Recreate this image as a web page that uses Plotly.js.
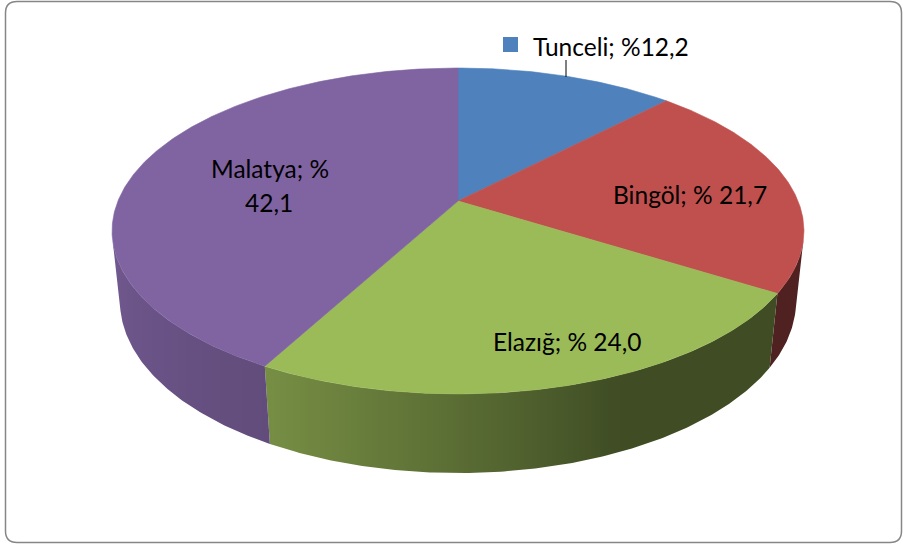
<!DOCTYPE html>
<html>
<head>
<meta charset="utf-8">
<script src="https://cdn.plot.ly/plotly-3.0.1.min.js"></script>
<style>html,body{margin:0;padding:0;background:#fff;}#chart{width:903px;height:547px;}</style>
</head>
<body>
<div id="chart"></div>
<script>
// ---- data ----
const categories = ['Tunceli', 'Bingöl', 'Elazığ', 'Malatya'];
const shares = [12.2, 21.7, 24.0, 42.1];
const labelLines = [['Tunceli; %12,2'], ['Bingöl; % 21,7'], ['Elazığ; % 24,0'], ['Malatya; %', '42,1']];
const sliceColors = ['#4f81bd', '#c0504d', '#9bbb59', '#8064a2'];

// ---- 3D perspective projection of a tilted disc ----
const CX = 458, CY = 201, F = 1639, DIST = 4.82;
const SINP = 0.463, COSP = Math.sqrt(1 - SINP * SINP);
const THICK = 0.2345;
function proj(thetaDeg, Y) {
  const t = thetaDeg * Math.PI / 180;
  const X = Math.sin(t), Z = Math.cos(t);
  const yc = Y * COSP + Z * SINP;
  const zc = -Y * SINP + Z * COSP;
  return [CX + F * X / (DIST + zc), CY - F * yc / (DIST + zc)];
}
// rim visible where cos(theta) < -1/(D cos phi)
const silA = Math.acos(-1 / (DIST * COSP)) * 180 / Math.PI;
const silB = 360 - silA;

function hexToRgb(h) { return [parseInt(h.substr(1,2),16), parseInt(h.substr(3,2),16), parseInt(h.substr(5,2),16)]; }
const shadeTable = [[100,0.41],[157,0.41],[170,0.51],[184,0.61],[208,0.76],[260,0.89]];
function shade(th) {
  if (th <= shadeTable[0][0]) return shadeTable[0][1];
  for (let i = 1; i < shadeTable.length; i++) {
    if (th <= shadeTable[i][0]) {
      const [a, fa] = shadeTable[i-1], [b, fb] = shadeTable[i];
      return fa + (fb - fa) * (th - a) / (b - a);
    }
  }
  return shadeTable[shadeTable.length-1][1];
}

const total = shares.reduce((a, b) => a + b, 0);
const bounds = [];
let acc = 0;
shares.forEach(v => { const a = acc / total * 360; acc += v; bounds.push([a, acc / total * 360]); });

const sideTraces = [], topTraces = [];
bounds.forEach(([a, b], i) => {
  // side (rim) part
  const s = Math.max(a, silA), e = Math.min(b, silB);
  if (e > s) {
    const xs = [], ys = [];
    const n = Math.max(2, Math.ceil((e - s) / 0.5));
    for (let k = 0; k <= n; k++) { const p = proj(s + (e - s) * k / n, 0); xs.push(p[0]); ys.push(p[1]); }
    for (let k = n; k >= 0; k--) { const p = proj(s + (e - s) * k / n, -THICK); xs.push(p[0]); ys.push(p[1]); }
    xs.push(xs[0]); ys.push(ys[0]);
    const base = hexToRgb(sliceColors[i]);
    const samples = [];
    const m = Math.max(2, Math.ceil((e - s) / 2));
    for (let k = 0; k <= m; k++) {
      const th = s + (e - s) * k / m;
      const x = (proj(th, 0)[0] + proj(th, -THICK)[0]) / 2;
      const f = shade(th);
      samples.push([x, 'rgb(' + base.map(c => Math.round(c * f)).join(',') + ')']);
    }
    samples.sort((p, q) => p[0] - q[0]);
    const x0 = samples[0][0], x1 = samples[samples.length-1][0];
    const cs = samples.map(([x, c]) => [(x - x0) / (x1 - x0), c]);
    cs[0][0] = 0; cs[cs.length-1][0] = 1;
    sideTraces.push({
      type: 'scatter', mode: 'lines', x: xs, y: ys, fill: 'toself',
      fillgradient: { type: 'horizontal', colorscale: cs, start: x0, stop: x1 },
      line: { width: 0 }, hoverinfo: 'skip', showlegend: false
    });
  }
  // top face
  const xs = [CX], ys = [CY];
  const n = Math.max(2, Math.ceil((b - a) / 0.5));
  for (let k = 0; k <= n; k++) { const p = proj(a + (b - a) * k / n, 0); xs.push(p[0]); ys.push(p[1]); }
  xs.push(CX); ys.push(CY);
  topTraces.push({
    type: 'scatter', mode: 'lines', x: xs, y: ys, fill: 'toself',
    fillcolor: sliceColors[i], line: { width: 0.6, color: sliceColors[i] },
    name: categories[i], hoverinfo: 'name', showlegend: false
  });
});

const FONT = { family: 'Lato, "Open Sans", sans-serif', size: 24.5, color: '#000000' };
const annotations = [
  { x: 531, y: 46, text: labelLines[0][0], xanchor: 'left' },
  { x: 690, y: 194, text: labelLines[1][0], xanchor: 'center' },
  { x: 567, y: 341, text: labelLines[2][0], xanchor: 'center' },
  { x: 270, y: 168, text: labelLines[3][0], xanchor: 'center' },
  { x: 269, y: 202, text: labelLines[3][1], xanchor: 'center' }
].map(a => Object.assign({ xref: 'x', yref: 'y', yanchor: 'middle', showarrow: false, font: FONT }, a));

const shapes = [
  { type: 'path', xref: 'x', yref: 'y',
    path: 'M 5.5,13 Q 5.5,1.5 17,1.5 L 890,1.5 Q 901.5,1.5 901.5,13 L 901.5,531 Q 901.5,542.5 890,542.5 L 17,542.5 Q 5.5,542.5 5.5,531 Z',
    line: { color: '#868686', width: 1.5 }, fillcolor: 'rgba(0,0,0,0)' },
  { type: 'rect', xref: 'x', yref: 'y', x0: 503, x1: 518, y0: 37, y1: 52,
    fillcolor: sliceColors[0], line: { width: 0 } },
  { type: 'line', xref: 'x', yref: 'y', x0: 566, x1: 566, y0: 60, y1: 77,
    line: { color: '#000000', width: 1 } }
];

const layout = {
  width: 903, height: 547,
  margin: { l: 0, r: 0, t: 0, b: 0 },
  paper_bgcolor: '#ffffff', plot_bgcolor: '#ffffff',
  xaxis: { range: [0, 903], visible: false, fixedrange: true },
  yaxis: { range: [547, 0], visible: false, fixedrange: true },
  showlegend: false,
  annotations: annotations,
  shapes: shapes
};

Plotly.newPlot('chart', sideTraces.concat(topTraces), layout, { displayModeBar: false, staticPlot: true });
</script>
</body>
</html>
